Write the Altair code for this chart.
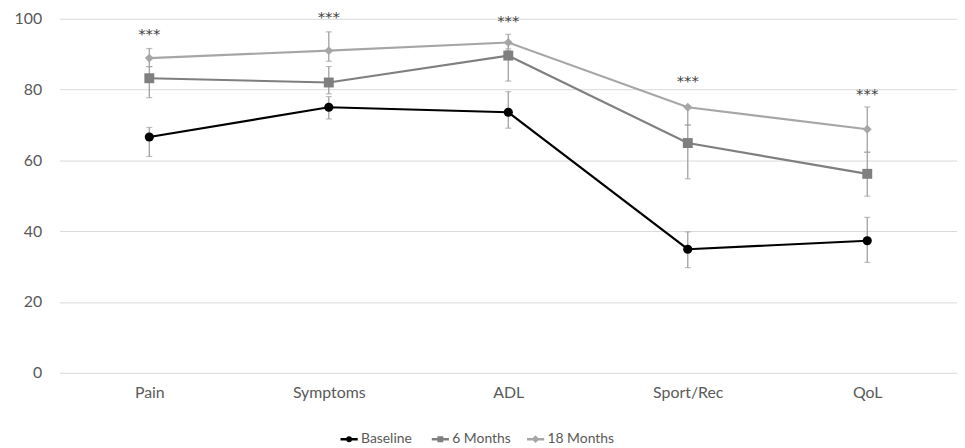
import altair as alt
import pandas as pd

categories = ["Pain", "Symptoms", "ADL", "Sport/Rec", "QoL"]
series_names = ["Baseline", "6 Months", "18 Months"]

baseline_mean = [66.6, 75.0, 73.6, 34.9, 37.3]
baseline_low = [61.1, 71.7, 69.1, 29.7, 31.2]
baseline_high = [69.3, 78.0, 79.4, 39.8, 43.9]

m6_mean = [83.2, 82.0, 89.6, 64.9, 56.2]
m6_low = [77.7, 78.8, 82.4, 54.8, 49.9]
m6_high = [86.5, 86.5, 91.5, 70.0, 62.3]

m18_mean = [88.9, 91.0, 93.3, 75.0, 68.8]
m18_low = [86.5, 88.0, 91.0, 70.0, 62.3]
m18_high = [91.6, 96.3, 95.6, 75.4, 75.1]

star_y = [95.8, 100.4, 99.4, 82.3, 78.7]
star_text = ["***", "***", "***", "***", "***"]

line_colors = ["#000000", "#7f7f7f", "#a6a6a6"]
marker_shapes = ["circle", "square", "diamond"]
marker_sizes = [85, 100, 80]
legend_paths = [
    "M-1,0L1,0M0.19,0A0.19,0.19,0,1,1,-0.19,0A0.19,0.19,0,1,1,0.19,0Z",
    "M-1,0L1,0M-0.19,-0.19L0.19,-0.19L0.19,0.19L-0.19,0.19Z",
    "M-1,0L1,0M0,-0.24L0.24,0L0,0.24L-0.24,0Z",
]
legend_x = [282, 374, 470]

rows = []
for name, means, lows, highs in [
    ("Baseline", baseline_mean, baseline_low, baseline_high),
    ("6 Months", m6_mean, m6_low, m6_high),
    ("18 Months", m18_mean, m18_low, m18_high),
]:
    for c, m, lo, hi in zip(categories, means, lows, highs):
        rows.append({"category": c, "series": name, "mean": m, "lo": lo, "hi": hi})
df = pd.DataFrame(rows)
stars = pd.DataFrame({"category": categories, "y": star_y, "text": star_text})

FONT = "Lato"

x_enc = alt.X(
    "category:N",
    sort=categories,
    title=None,
    scale=alt.Scale(type="point", padding=0.5),
    axis=alt.Axis(labelAngle=0, labelFontSize=16, labelColor="#595959", labelFont=FONT,
                  ticks=False, domain=False, labelPadding=12, grid=False),
)
y_scale = alt.Scale(domain=[0, 100])
y_axis = alt.Axis(values=[0, 20, 40, 60, 80, 100], labelFontSize=16, labelColor="#595959",
                  labelFont=FONT, ticks=False, domain=False, labelPadding=18,
                  grid=True, gridColor="#d9d9d9", gridWidth=1)

color_enc = alt.Color("series:N", scale=alt.Scale(domain=series_names, range=line_colors), legend=None)

base = alt.Chart(df)

err_rule = base.mark_rule(color="#a0a0a0", strokeWidth=1.3).encode(
    x=x_enc, y=alt.Y("lo:Q", scale=y_scale, axis=y_axis, title=None), y2="hi:Q"
)
err_lo = base.mark_tick(color="#a0a0a0", size=6, thickness=1.2, orient="horizontal").encode(
    x=x_enc, y=alt.Y("lo:Q", scale=y_scale, axis=y_axis, title=None)
)
err_hi = base.mark_tick(color="#a0a0a0", size=6, thickness=1.2, orient="horizontal").encode(
    x=x_enc, y=alt.Y("hi:Q", scale=y_scale, axis=y_axis, title=None)
)

lines = base.mark_line(strokeWidth=2.2).encode(
    x=x_enc,
    y=alt.Y("mean:Q", scale=y_scale, axis=y_axis, title=None),
    color=color_enc,
    detail="series:N",
)

point_layers = []
for name, col, shp, sz in zip(series_names, line_colors, marker_shapes, marker_sizes):
    point_layers.append(
        base.transform_filter(alt.datum.series == name)
        .mark_point(filled=True, opacity=1, shape=shp, size=sz, color=col)
        .encode(x=x_enc, y=alt.Y("mean:Q", scale=y_scale, axis=y_axis, title=None))
    )

star_layer = alt.Chart(stars).mark_text(fontSize=15, fill="#404040", font="DejaVu Sans",
                                         baseline="middle").encode(
    x=x_enc,
    y=alt.Y("y:Q", scale=y_scale, axis=y_axis, title=None),
    text="text:N",
)

legend_layers = []
for name, col, path, lx in zip(series_names, line_colors, legend_paths, legend_x):
    leg = alt.Legend(
        title=None, orient="none", direction="horizontal", legendX=lx, legendY=414,
        labelFontSize=14, labelColor="#595959", labelFont=FONT, symbolSize=300,
        symbolType=path, symbolStrokeWidth=2.6, symbolOpacity=1, labelOffset=2,
    )
    legend_layers.append(
        base.transform_filter("false")
        .mark_point(filled=False, opacity=1, strokeWidth=2.6)
        .encode(stroke=alt.Stroke("series:N", scale=alt.Scale(domain=[name], range=[col]), legend=leg))
    )

chart = (
    alt.layer(err_rule, err_lo, err_hi, lines, *point_layers, star_layer, *legend_layers)
    .resolve_scale(stroke="independent")
    .properties(
        width=905, height=357,
        autosize=alt.AutoSizeParams(type="none"),
        padding={"left": 52, "top": 9, "right": 0, "bottom": 76},
    )
    .configure_view(stroke=None)
)

chart.save("out.html", embed_options={"renderer": "svg", "actions": False})
